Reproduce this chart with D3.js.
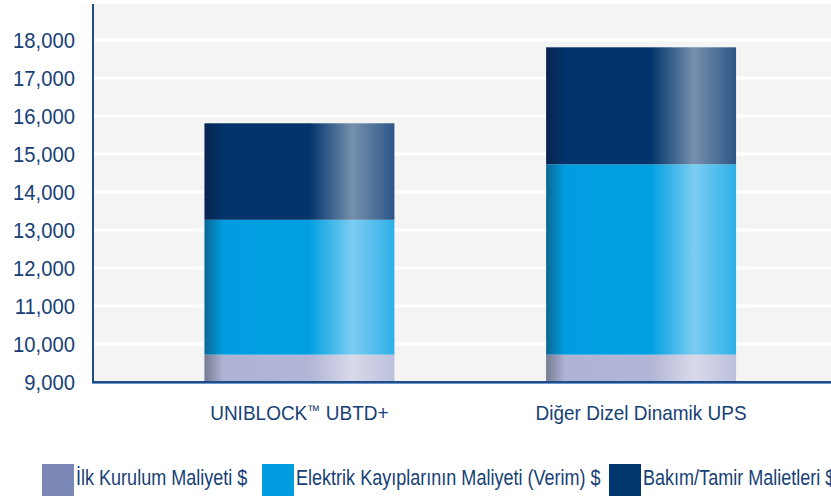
<!DOCTYPE html>
<html>
<head>
<meta charset="utf-8">
<script src="https://d3js.org/d3.v7.min.js"></script>
<style>
  body { margin: 0; background: #fff; }
  svg text { font-family: "Liberation Sans", Arial, sans-serif; fill: #173f75; }
</style>
</head>
<body>
<svg id="chart" width="831" height="496"></svg>
<script>
// data
const categories = ["UNIBLOCK™ UBTD+", "Diğer Dizel Dinamik UPS"];
const seriesNames = ["İlk Kurulum Maliyeti $", "Elektrik Kayıplarının Maliyeti (Verim) $", "Bakım/Tamir Malietleri $"];
// segment values (stacked on top of the 9,000 baseline)
const installCost = [9720, 9720];
const energyLoss = [3550, 5010];
const maintenance = [2540, 3080];
const yTicks = [9000, 10000, 11000, 12000, 13000, 14000, 15000, 16000, 17000, 18000];

const svg = d3.select("#chart");
const plotL = 93, plotR = 831, plotT = 4, plotB = 382;

const x = d3.scaleBand().domain(categories).range([plotL, plotR])
  .paddingInner(0.444).paddingOuter(0.302).align(0.54);
const y = d3.scaleLinear().domain([9000, 18950]).range([plotB, plotT]);

// gradients for the shiny cylinder look
const grads = [
  {id: "g0", stops: [[0, "#767a92"], [0.1, "#b0b3d4"], [0.55, "#b2b5d5"], [0.78, "#d8d9e9"], [1, "#bcc0dc"]]},
  {id: "g1", stops: [[0, "#0a6896"], [0.1, "#009ee0"], [0.55, "#00a0e1"], [0.78, "#7ccdf2"], [1, "#2db0e8"]]},
  {id: "g2", stops: [[0, "#0a2450"], [0.1, "#00346a"], [0.55, "#00346a"], [0.78, "#7690ae"], [1, "#2c5687"]]}
];
const defs = svg.append("defs");
grads.forEach(g => {
  const lg = defs.append("linearGradient").attr("id", g.id)
    .attr("x1", 0).attr("x2", 1).attr("y1", 0).attr("y2", 0);
  g.stops.forEach(s => lg.append("stop").attr("offset", s[0]).attr("stop-color", s[1]));
});
const legendColors = ["#7b87b4", "#009ee0", "#00376f"];

// plot background
svg.append("rect").attr("x", plotL).attr("y", plotT)
  .attr("width", plotR - plotL).attr("height", plotB - plotT).attr("fill", "#f4f4f4");

// grid
svg.selectAll("line.grid").data(yTicks.slice(1)).join("line")
  .attr("class", "grid")
  .attr("x1", plotL).attr("x2", plotR)
  .attr("y1", d => y(d)).attr("y2", d => y(d))
  .attr("stroke", "#ffffff").attr("stroke-width", 3);

// stacked bars
const rows = categories.map((c, i) => ({cat: c, v0: installCost[i], v1: energyLoss[i], v2: maintenance[i]}));
const stack = d3.stack().keys(["v0", "v1", "v2"])(rows);
svg.selectAll("g.layer").data(stack).join("g")
  .attr("class", "layer")
  .attr("fill", (d, i) => "url(#g" + i + ")")
  .selectAll("rect").data(d => d).join("rect")
  .attr("x", d => x(d.data.cat))
  .attr("width", x.bandwidth())
  .attr("y", d => y(Math.max(d[1], 9000)))
  .attr("height", d => y(Math.max(d[0], 9000)) - y(Math.max(d[1], 9000)));

// axes lines
svg.append("line").attr("x1", plotL).attr("x2", plotL).attr("y1", plotT).attr("y2", plotB + 1)
  .attr("stroke", "#1e4e8a").attr("stroke-width", 2);
svg.append("line").attr("x1", plotL - 1).attr("x2", plotR).attr("y1", plotB).attr("y2", plotB)
  .attr("stroke", "#1e4e8a").attr("stroke-width", 2);
svg.append("line").attr("x1", plotL - 1).attr("x2", plotR).attr("y1", plotB + 1.5).attr("y2", plotB + 1.5)
  .attr("stroke", "#6f97cc").attr("stroke-width", 1);

// condensed look: squeeze text horizontally
// y tick labels
const fmt = d3.format(",");
svg.selectAll("text.ytick").data(yTicks).join("text")
  .attr("class", "ytick")
  .attr("transform", d => `translate(75,${y(d)}) scale(0.92,1)`)
  .attr("dy", "0.36em")
  .attr("text-anchor", "end")
  .attr("font-size", 22)
  .text(d => fmt(d));

// category labels (™ drawn smaller and raised, like the original)
const xlab = svg.selectAll("text.xlab").data(categories).join("text")
  .attr("class", "xlab")
  .attr("transform", d => `translate(${x(d) + x.bandwidth() / 2},420) scale(0.95,1)`)
  .attr("text-anchor", "middle")
  .attr("font-size", 20);
xlab.each(function(d) {
  const parts = d.split("™");
  const t = d3.select(this);
  t.append("tspan").text(parts[0]);
  if (parts.length > 1) {
    t.append("tspan").attr("font-size", 14).attr("dy", -5).text("™");
    t.append("tspan").attr("dy", 5).text(parts[1]);
  }
});

// legend
const legendX = [42, 262, 609];
const lg = svg.selectAll("g.legend").data(seriesNames).join("g")
  .attr("class", "legend")
  .attr("transform", (d, i) => `translate(${legendX[i]},464)`);
lg.append("rect").attr("width", 32).attr("height", 32).attr("fill", (d, i) => legendColors[i]);
lg.append("text").attr("transform", "translate(34,21) scale(0.82,1)")
  .attr("font-size", 22).text(d => d);
</script>
</body>
</html>
